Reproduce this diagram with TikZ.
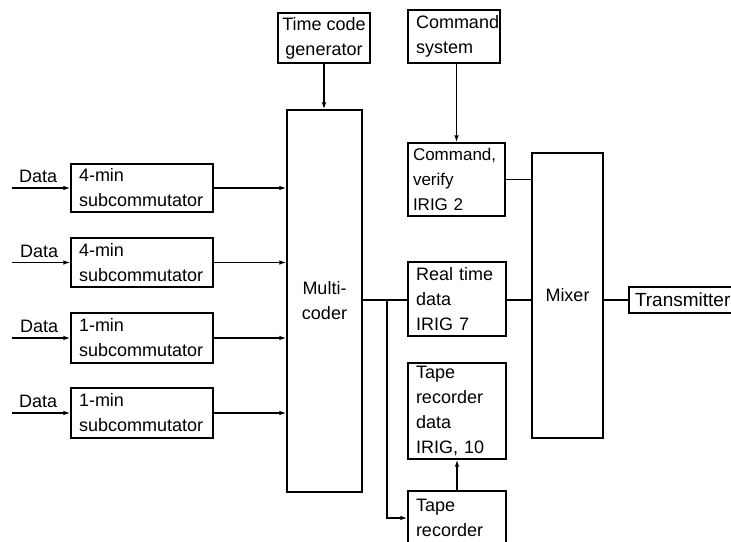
\documentclass[tikz,border=0pt]{standalone}
\usepackage{fontspec}
\setmainfont{Liberation Sans}
\usetikzlibrary{arrows.meta}
\begin{document}
\begin{tikzpicture}[x=1pt,y=-1pt,
  every node/.style={font=\fontsize{18}{25}\selectfont},
  box/.style={draw, line width=1.3pt, align=left, inner xsep=8pt, inner ysep=0pt},
  wire/.style={line width=1.3pt},
  arr/.style={line width=1.3pt, -{Latex[length=7pt,width=4.5pt]}},
  lbl/.style={anchor=base west, inner sep=0pt}]
\useasboundingbox (0,0) rectangle (731,541);

% subcommutators
\node[box, text width=126pt, minimum height=48pt] (s1) at (142,188) {4-min\\subcommutator};
\node[box, text width=126pt, minimum height=49pt] (s2) at (142,262.5) {4-min\\subcommutator};
\node[box, text width=126pt, minimum height=50pt] (s3) at (142,338) {1-min\\subcommutator};
\node[box, text width=126pt, minimum height=50pt] (s4) at (142,413) {1-min\\subcommutator};

% data labels and inputs
\node[lbl] (d1) at (19,182) {Data};
\node[lbl] (d2) at (20,257) {Data};
\node[lbl] (d3) at (20,332) {Data};
\node[lbl] (d4) at (19,407) {Data};
\coordinate (i1) at (12,188);
\coordinate (i2) at (12,262.5);
\coordinate (i3) at (12,338);
\coordinate (i4) at (12,413);

% multicoder and time code
\node[box, align=center, minimum width=75pt, minimum height=382pt, inner xsep=0pt] (mc) at (324.5,301) {Multi-\\coder};
\node[box, align=center, minimum width=92pt, minimum height=50pt, inner xsep=0pt] (tc) at (324,38) {Time code\\generator};

% command
\node[box, text width=76pt, minimum height=53pt] (cs) at (454,36.5) {Command\\system};
\node[box, text width=87pt, minimum height=73pt, inner xsep=5pt, font=\fontsize{17}{25}\selectfont] (cv) at (456.5,179.5) {Command,\\verify\\IRIG 2};

% data paths
\node[box, text width=82pt, minimum height=74pt] (rt) at (457,299) {Real time\\data\\IRIG 7};
\node[box, text width=82pt, minimum height=96pt] (td) at (457,411) {Tape\\recorder\\data\\IRIG, 10};
\node[box, text width=82pt, minimum height=54pt] (tr) at (457,518) {\raisebox{2pt}{\parbox{82pt}{Tape\\recorder}}};

% mixer and transmitter
\node[box, align=center, minimum width=71pt, minimum height=285pt, inner xsep=0pt] (mx) at (567.5,295.5) {\raisebox{-4pt}{Mixer}};
\node[box, text width=104pt, minimum height=26pt, inner xsep=6pt, font=\fontsize{19}{25}\selectfont] (tx) at (687,300) {Transmitter};

% connectors
\foreach \i in {1,2,3,4} {
  \draw[arr] (i\i) -- (s\i.west);
  \draw[arr] (s\i.east) -- (s\i.east -| mc.west);
}
\draw[arr] (tc.south) -- (tc.south |- mc.north);
\draw[arr] (cs.south -| cv.north) -- (cv.north);
\coordinate (br) at (387,300);
\draw[wire] (mc.east |- br) -- (br) -- (br -| rt.west);
\draw[arr] (br) |- (tr.west);
\draw[arr] (tr.north) -- (td.south);
\draw[wire] (cv.east) -- (cv.east -| mx.west);
\draw[wire] (rt.east |- br) -- (br -| mx.west);
\draw[wire] (mx.east |- tx.west) -- (tx.west);
\end{tikzpicture}
\end{document}
